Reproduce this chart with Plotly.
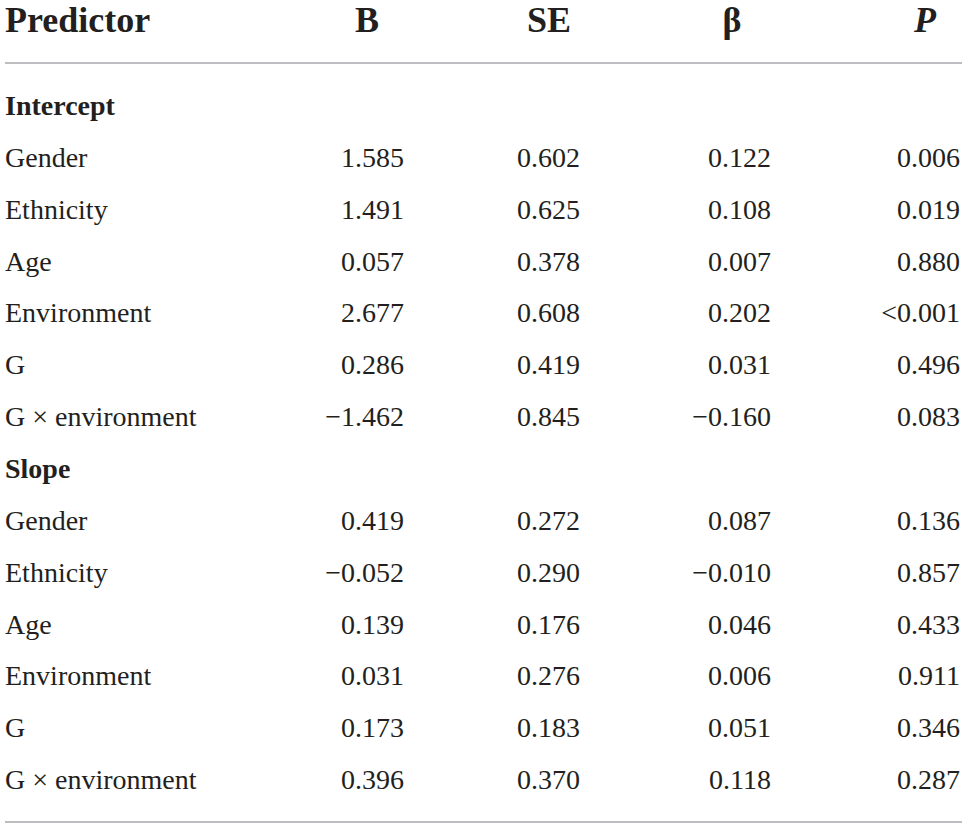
import plotly.graph_objects as go

# Table data
predictors = ["Gender", "Ethnicity", "Age", "Environment", "G", "G × environment"]
groups = ["Intercept", "Slope"]
headers = ["Predictor", "B", "SE", "β", "<i>P</i>"]

intercept_b = ["1.585", "1.491", "0.057", "2.677", "0.286", "−1.462"]
intercept_se = ["0.602", "0.625", "0.378", "0.608", "0.419", "0.845"]
intercept_beta = ["0.122", "0.108", "0.007", "0.202", "0.031", "−0.160"]
intercept_p = ["0.006", "0.019", "0.880", "<0.001", "0.496", "0.083"]

slope_b = ["0.419", "−0.052", "0.139", "0.031", "0.173", "0.396"]
slope_se = ["0.272", "0.290", "0.176", "0.276", "0.183", "0.370"]
slope_beta = ["0.087", "−0.010", "0.046", "0.006", "0.051", "0.118"]
slope_p = ["0.136", "0.857", "0.433", "0.911", "0.346", "0.287"]

W, H = 968, 829
FONT = "Liberation Serif"
TXT = "#231f20"

# row layout: group label row then its predictors
labels, bold = [], []
cols = [[], [], [], []]
for g, vals in zip(groups, [(intercept_b, intercept_se, intercept_beta, intercept_p),
                            (slope_b, slope_se, slope_beta, slope_p)]):
    labels.append(g); bold.append(True)
    for c in cols:
        c.append("")
    for i, p in enumerate(predictors):
        labels.append(p); bold.append(False)
        for c, v in zip(cols, vals):
            c.append(v[i])
rows = list(range(len(labels)))

col_right = [404, 580, 771, 960]     # right edges of numeric columns
head_center = [367, 549, 732, 925]

fig = go.Figure()

# predictor column
fig.add_trace(go.Scatter(
    x=[5] * len(rows), y=rows, mode="text",
    text=[f"<b>{t}</b>" if b else t for t, b in zip(labels, bold)],
    textposition="middle right",
    textfont=dict(family=FONT, size=28, color=TXT), hoverinfo="skip"))

for xr, c in zip(col_right, cols):
    fig.add_trace(go.Scatter(
        x=[xr] * len(rows), y=rows, mode="text", text=c,
        textposition="middle left",
        textfont=dict(family=FONT, size=28, color=TXT), hoverinfo="skip"))

# header
head_y = -1.64
fig.add_trace(go.Scatter(
    x=[5], y=[head_y], mode="text", text=[f"<b>{headers[0]}</b>"],
    textposition="middle right",
    textfont=dict(family=FONT, size=36, color=TXT), hoverinfo="skip"))
fig.add_trace(go.Scatter(
    x=head_center, y=[head_y] * 4, mode="text",
    text=[f"<b>{h}</b>" for h in headers[1:]],
    textposition="middle center",
    textfont=dict(family=FONT, size=36, color=TXT), hoverinfo="skip"))

# rules
for yv in [-0.868, 13.77]:
    fig.add_shape(type="line", x0=5, x1=962, y0=yv, y1=yv,
                  line=dict(color="#a7a9ac", width=1.5))

fig.update_layout(
    width=W, height=H, showlegend=False,
    margin=dict(l=0, r=0, t=0, b=0),
    paper_bgcolor="white", plot_bgcolor="white",
    xaxis=dict(range=[0, W], visible=False, fixedrange=True),
    yaxis=dict(range=[13.905, -2.083], visible=False, fixedrange=True),
)

fig.write_html("out.html", config={"displayModeBar": False},
               post_script="document.body.style.margin='0';document.body.style.overflow='hidden';")
